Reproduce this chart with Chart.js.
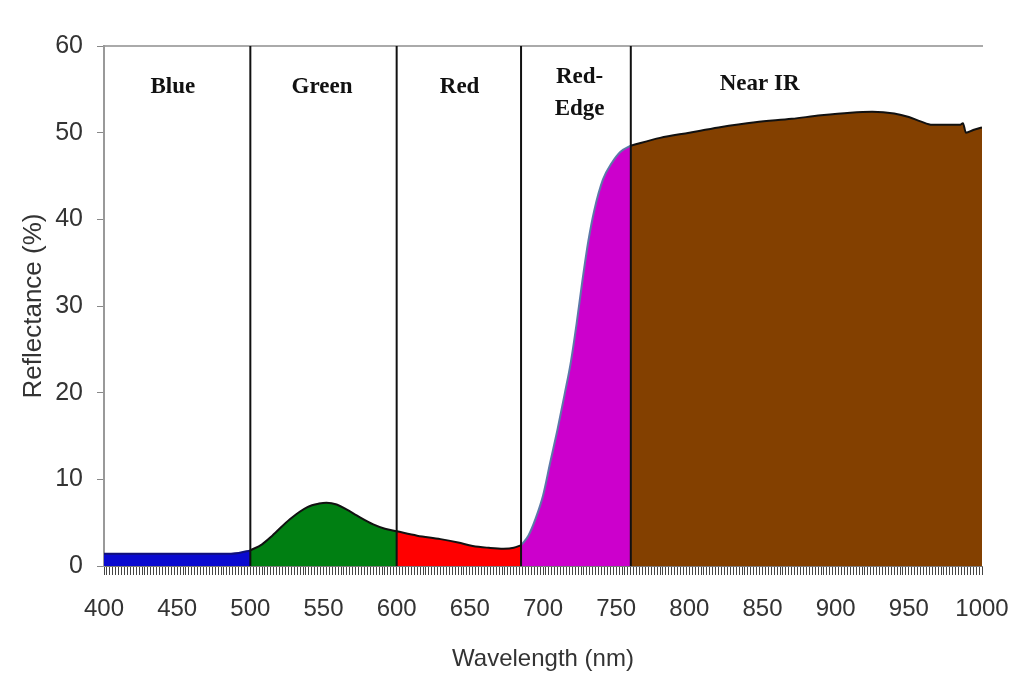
<!DOCTYPE html>
<html>
<head>
<meta charset="utf-8">
<script src="https://cdn.jsdelivr.net/npm/chart.js@4.4.1/dist/chart.umd.min.js"></script>
<style>
  html, body { margin: 0; padding: 0; background: #fff; }
  #wrap { width: 1013px; height: 674px; }
</style>
</head>
<body>
<div id="wrap"><canvas id="grafica"></canvas></div>
<script>
// Longitudes de onda (nm) y reflectancia (%) por banda
const blueWl = [400, 420, 440, 460, 480, 492, 500];
const blueR  = [1.4, 1.4, 1.4, 1.4, 1.4, 1.5, 1.8];

const greenWl = [500, 508, 515, 527, 539, 547, 552, 559, 566, 573, 584, 592, 600];
const greenR  = [1.8, 2.5, 3.5, 5.4, 6.8, 7.2, 7.3, 7.1, 6.5, 5.8, 4.8, 4.3, 4.0];

const redWl = [600, 614, 630, 642, 652, 663, 673, 680, 685];
const redR  = [4.0, 3.5, 3.1, 2.7, 2.3, 2.1, 2.0, 2.1, 2.4];

const edgeWl = [685, 690, 695, 700, 705, 710, 715, 719, 723, 727, 731, 735, 741, 747, 753, 760];
const edgeR  = [2.4, 3.5, 5.5, 8.1, 12, 15.8, 20, 23.5, 28, 33, 37.5, 41, 44.6, 46.5, 47.8, 48.5];

const nirWl = [760, 780, 800, 820, 845, 870, 890, 910, 925, 940, 950, 958, 966, 975, 985, 987, 989, 994, 1000];
const nirR  = [48.5, 49.4, 50.0, 50.6, 51.2, 51.6, 52.0, 52.3, 52.4, 52.2, 51.8, 51.3, 50.9, 50.9, 50.9, 51.1, 50.0, 50.3, 50.6];

// Límites entre bandas y etiquetas
const limites = [500, 600, 685, 760];
const bandNames = [['Blue'], ['Green'], ['Red'], ['Red-', 'Edge'], ['Near IR']];
const bandCenters = [447, 549, 643, 725, 848];
const bandLabelY = [55.3, 55.3, 55.3, 56.4, 55.6];

const yTicks = [0, 10, 20, 30, 40, 50, 60];

function puntos(wl, r) {
    return wl.map((x, i) => ({ x: x, y: r[i] }));
}

function banda(wl, r, relleno, borde) {
    return {
        data: puntos(wl, r),
        backgroundColor: relleno,
        borderColor: borde,
        borderWidth: 2,
        pointRadius: 0,
        fill: 'origin',
        cubicInterpolationMode: 'monotone',
        order: 2
    };
}

let datasets = [
    banda(blueWl, blueR, '#0a0ad0', '#10107a'),
    banda(greenWl, greenR, '#007f12', '#111'),
    banda(redWl, redR, '#ff0000', '#111'),
    banda(edgeWl, edgeR, '#cc00cc', '#5b78a8'),
    banda(nirWl, nirR, '#834000', '#111')
];

// Líneas verticales de separación
limites.forEach(x => {
    datasets.push({
        data: [{ x: x, y: 0 }, { x: x, y: 60 }],
        borderColor: '#111',
        borderWidth: 2,
        pointRadius: 0,
        fill: false,
        order: 0
    });
});

// Plugin para escribir los nombres de las bandas
const etiquetasBandas = {
    id: 'etiquetasBandas',
    afterDatasetsDraw(chart) {
        const ctx = chart.ctx;
        const xs = chart.scales.x, ys = chart.scales.y;
        ctx.save();
        ctx.font = 'bold 23px "Liberation Serif", "Times New Roman", serif';
        ctx.fillStyle = '#111';
        ctx.textAlign = 'center';
        ctx.textBaseline = 'middle';
        bandNames.forEach((lineas, i) => {
            const px = xs.getPixelForValue(bandCenters[i]);
            const py = ys.getPixelForValue(bandLabelY[i]);
            lineas.forEach((t, j) => ctx.fillText(t, px, py + j * 32));
        });
        ctx.restore();
    }
};

const fuenteEje = { family: '"Liberation Sans", Arial, sans-serif', size: 24 };

new Chart(document.getElementById('grafica').getContext('2d'), {
    type: 'line',
    data: { datasets: datasets },
    options: {
        responsive: true,
        maintainAspectRatio: false,
        animation: false,
        layout: { padding: { top: 46, right: 31, left: 14, bottom: 0 } },
        plugins: { legend: { display: false }, tooltip: { enabled: false } },
        scales: {
            x: {
                type: 'linear',
                min: 400,
                max: 1000,
                ticks: {
                    stepSize: 2,
                    autoSkip: false,
                    maxRotation: 0,
                    padding: 20,
                    color: '#333',
                    font: fuenteEje,
                    callback: v => (v % 50 === 0 ? v : '')
                },
                grid: { drawOnChartArea: false, tickLength: 9, color: '#444', lineWidth: 1 },
                border: { color: '#777', width: 1 },
                title: { display: true, text: 'Wavelength (nm)', color: '#333', font: { family: fuenteEje.family, size: 24 }, padding: { top: 18, bottom: 0 } },
                afterFit: s => { s.height = 108; s.paddingLeft = 0; s.paddingRight = 0; }
            },
            x2: {
                type: 'linear',
                position: 'top',
                min: 400,
                max: 1000,
                ticks: { display: false },
                grid: { display: false },
                border: { display: true, color: '#aaa', width: 2 },
                afterFit: s => { s.height = 0; }
            },
            y: {
                type: 'linear',
                min: 0,
                max: 60,
                afterBuildTicks: s => { s.ticks = yTicks.map(v => ({ value: v })); },
                ticks: { color: '#333', font: { family: fuenteEje.family, size: 25 }, padding: 14 },
                grid: { drawOnChartArea: false, tickLength: 7, color: '#888' },
                border: { color: '#999', width: 2 },
                title: { display: true, text: 'Reflectance (%)', color: '#333', font: { family: fuenteEje.family, size: 26 }, padding: { bottom: 0 } },
                afterFit: s => { s.width = 90; }
            }
        }
    },
    plugins: [etiquetasBandas]
});
</script>
</body>
</html>
